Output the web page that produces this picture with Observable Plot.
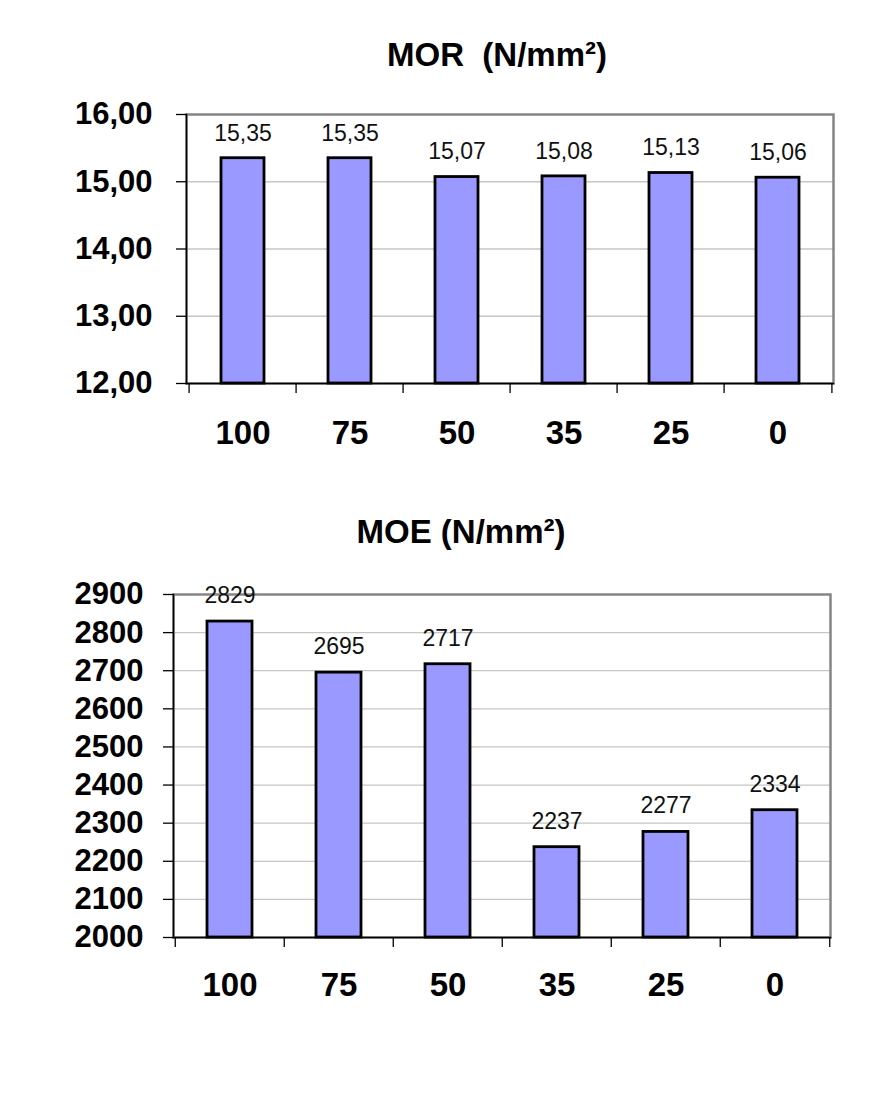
<!DOCTYPE html>
<html>
<head>
<meta charset="utf-8">
<script src="https://cdn.jsdelivr.net/npm/d3@7"></script>
<script src="https://cdn.jsdelivr.net/npm/@observablehq/plot@0.6"></script>
<style>
  html, body { margin: 0; padding: 0; background: #fff; }
  #wrap { position: relative; width: 870px; height: 1098px; overflow: hidden; font-family: Arial, "Liberation Sans", sans-serif; }
  .title { position: absolute; transform: translate(-50%, -50%); font-weight: bold; font-size: 33px; white-space: pre; color: #000; }
  .chart { position: absolute; left: 0; }
</style>
</head>
<body>
<div id="wrap">
  <div class="title" id="t1" style="left:497px; top:55px;"></div>
  <div class="title" id="t2" style="left:461px; top:532px;"></div>
  <div class="chart" id="c1" style="top:90px;"></div>
  <div class="chart" id="c2" style="top:570px;"></div>
</div>
<script>
const categories = ["100", "75", "50", "35", "25", "0"];
const morValues = [15.35, 15.35, 15.07, 15.08, 15.13, 15.06];
const moeValues = [2829, 2695, 2717, 2237, 2277, 2334];
const morTicks = [12, 13, 14, 15, 16];
const moeTicks = [2000, 2100, 2200, 2300, 2400, 2500, 2600, 2700, 2800, 2900];
const morTitle = "MOR  (N/mm²)";
const moeTitle = "MOE (N/mm²)";

document.getElementById("t1").textContent = morTitle;
document.getElementById("t2").textContent = moeTitle;

const fontFamily = 'Arial, "Liberation Sans", sans-serif';

function makeChart({values, ticks, domain, fmt, labelFmt, width, height, ml, mr, mt, mb, tickPad, xPad, labelDy, barPad}) {
  const data = categories.map((c, i) => ({cat: c, v: values[i]}));
  const step = (width - ml - mr) / categories.length;
  const inner = ticks.filter(t => t !== domain[0] && t !== domain[1]);
  return Plot.plot({
    width, height,
    marginLeft: ml, marginRight: mr, marginTop: mt, marginBottom: mb,
    style: {fontFamily, background: "white", overflow: "visible"},
    x: {domain: categories, paddingInner: barPad, paddingOuter: barPad / 2, label: null},
    y: {domain, label: null},
    marks: [
      Plot.gridY(inner, {stroke: "#c6c6c6", strokeOpacity: 1, strokeWidth: 1.3}),
      Plot.frame({stroke: "#858585", strokeWidth: 2.5}),
      Plot.frame({anchor: "left", stroke: "#000", strokeWidth: 1.5}),
      Plot.frame({anchor: "bottom", stroke: "#000", strokeWidth: 1.5}),
      Plot.barY(data, {x: "cat", y1: domain[0], y2: "v", fill: "#9999ff", stroke: "#000", strokeWidth: 2.8}),
      Plot.text(data, {x: "cat", y: "v", text: d => labelFmt(d.v), dy: labelDy, fontSize: 23, fill: "#111"}),
      Plot.axisY({ticks, tickFormat: fmt, tickSize: 10, tickPadding: tickPad, fontSize: 31, fontWeight: "bold", stroke: "#000", strokeWidth: 1.3, fill: "#000"}),
      Plot.axisX({ticks: categories, tickSize: 10, tickFormat: () => "", dx: -step / 2, stroke: "#000", strokeWidth: 1.3}),
      Plot.axisX({ticks: [categories[categories.length - 1]], tickSize: 10, tickFormat: () => "", dx: step / 2, stroke: "#000", strokeWidth: 1.3}),
      Plot.axisX({ticks: categories, tickSize: 0, tickPadding: xPad, fontSize: 33, fontWeight: "bold", fill: "#000"})
    ]
  });
}

const comma2 = v => v.toFixed(2).replace(".", ",");

document.getElementById("c1").appendChild(makeChart({
  values: morValues, ticks: morTicks, domain: [12, 16],
  fmt: comma2, labelFmt: comma2,
  width: 870, height: 400, ml: 186, mr: 37, mt: 24, mb: 107,
  tickPad: 24, xPad: 37, labelDy: -25, barPad: 0.6
}));

document.getElementById("c2").appendChild(makeChart({
  values: moeValues, ticks: moeTicks, domain: [2000, 2900],
  fmt: d => String(d), labelFmt: d => String(d),
  width: 870, height: 528, ml: 173, mr: 40, mt: 24, mb: 161,
  tickPad: 20, xPad: 35, labelDy: -26, barPad: 0.59
}));
</script>
</body>
</html>
